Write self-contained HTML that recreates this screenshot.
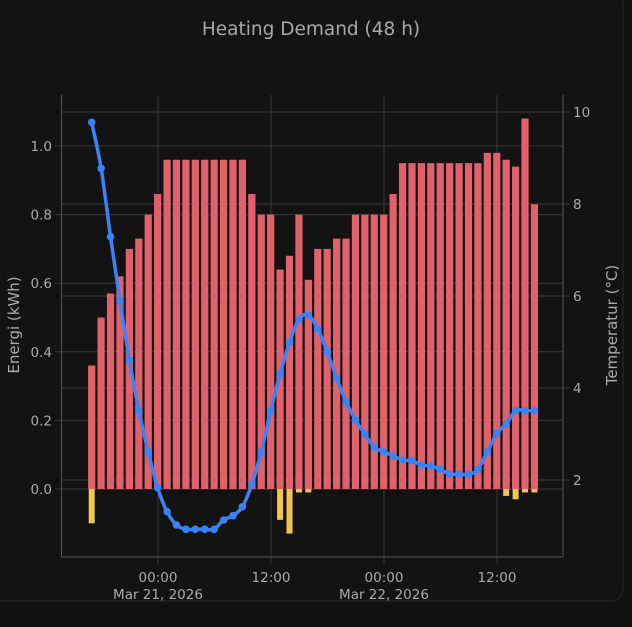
<!DOCTYPE html>
<html><head><meta charset="utf-8"><style>
html,body{margin:0;padding:0;background:#111;width:632px;height:627px;overflow:hidden;font-family:"DejaVu Sans","Liberation Sans",sans-serif}
</style></head><body>
<svg id="s" width="632" height="627" xmlns="http://www.w3.org/2000/svg" style="position:absolute;left:0;top:0" font-family="DejaVu Sans, Liberation Sans, sans-serif">
<rect x="0" y="0" width="632" height="627" fill="#111"/>
<rect x="-10" y="-10" width="633" height="611" rx="12" fill="#131313" stroke="#2c2c2c" stroke-width="1"/>
<text x="311" y="35" text-anchor="middle" font-size="18.5" fill="#a8a8a8">Heating Demand (48 h)</text>
<g id="grid" stroke="#3a3a3a" stroke-width="1"></g>
<g id="bars"></g>
<g id="line"></g>
<g id="axes" fill="#aaa" font-size="13.5"></g>
<text transform="translate(19,325) rotate(-90)" text-anchor="middle" font-size="15" fill="#aaa">Energi (kWh)</text>
<text transform="translate(617,325) rotate(-90)" text-anchor="middle" font-size="15" fill="#aaa">Temperatur (°C)</text>
</svg>
<script>
var NS="http://www.w3.org/2000/svg";
function el(p,t,a,txt){var e=document.createElementNS(NS,t);for(var k in a)e.setAttribute(k,a[k]);if(txt!=null)e.textContent=txt;document.getElementById(p).appendChild(e);return e;}
var y0=489,sc=343;
[0,0.2,0.4,0.6,0.8,1.0].forEach(function(v){var y=y0-v*sc;el("grid","line",{x1:55,x2:562,y1:y,y2:y});el("axes","text",{x:52,y:y+5,"text-anchor":"end"},v.toFixed(1));});
[[10,112],[8,204],[6,296],[4,388],[2,480]].forEach(function(d){el("grid","line",{x1:62,x2:570,y1:d[1],y2:d[1]});el("axes","text",{x:573,y:d[1]+5},String(d[0]));});
[158,271,384,497].forEach(function(x){el("grid","line",{x1:x,x2:x,y1:95,y2:564});});
el("grid","line",{x1:61.5,x2:61.5,y1:95,y2:557,stroke:"#555"});
el("grid","line",{x1:563,x2:563,y1:95,y2:557,stroke:"#555"});
el("grid","line",{x1:61.5,x2:563,y1:557,y2:557,stroke:"#555"});
[[158,"00:00","Mar 21, 2026"],[271,"12:00",""],[384,"00:00","Mar 22, 2026"],[497,"12:00",""]].forEach(function(d){el("axes","text",{x:d[0],y:582,"text-anchor":"middle"},d[1]);if(d[2])el("axes","text",{x:d[0],y:599,"text-anchor":"middle"},d[2]);});
var vals=[0.36,0.50,0.57,0.62,0.70,0.73,0.80,0.86,0.96,0.96,0.96,0.96,0.96,0.96,0.96,0.96,0.96,0.86,0.80,0.80,0.64,0.68,0.80,0.61,0.70,0.70,0.73,0.73,0.80,0.80,0.80,0.80,0.86,0.95,0.95,0.95,0.95,0.95,0.95,0.95,0.95,0.95,0.98,0.98,0.96,0.94,1.08,0.83];
var neg={0:-0.10,20:-0.09,21:-0.13,22:-0.01,23:-0.01,44:-0.02,45:-0.03,46:-0.01,47:-0.01};
var pitch=9.42,x0=91.7,w=7.2;
vals.forEach(function(v,i){var cx=x0+i*pitch;el("bars","rect",{x:cx-w/2,y:y0-v*sc,width:w,height:v*sc,fill:"#e1616a"});
if(neg[i]!=null){el("bars","rect",{x:cx-3,y:y0,width:6,height:-neg[i]*sc,fill:"#f2c64f"});}});
var ty=[122.3,168.3,236.7,301,360,410.7,451.7,487.7,511.7,525,529.3,529.3,529.3,529.3,520,515.7,506.7,484.3,451.7,410.7,373.7,342.3,319.3,315,329,351.7,378.3,401.7,420,434,447.3,451.7,456,460,460.7,465,466,469.3,474,474.3,474.3,469.3,451.7,433.3,424,410.7,410.7,410.7];
var pts=ty.map(function(y,i){return [x0+i*pitch,y];});
var d="M"+pts[0][0]+","+pts[0][1];
for(var i=0;i<pts.length-1;i++){var p0=pts[i-1]||pts[i],p1=pts[i],p2=pts[i+1],p3=pts[i+2]||p2;
d+=" C"+(p1[0]+(p2[0]-p0[0])/6)+","+(p1[1]+(p2[1]-p0[1])/6)+" "+(p2[0]-(p3[0]-p1[0])/6)+","+(p2[1]-(p3[1]-p1[1])/6)+" "+p2[0]+","+p2[1];}
el("line","path",{d:d,fill:"none",stroke:"#3b82f6","stroke-width":3.5});
pts.forEach(function(p){el("line","circle",{cx:p[0],cy:p[1],r:3.8,fill:"#3b82f6"});});
</script>
</body></html>
